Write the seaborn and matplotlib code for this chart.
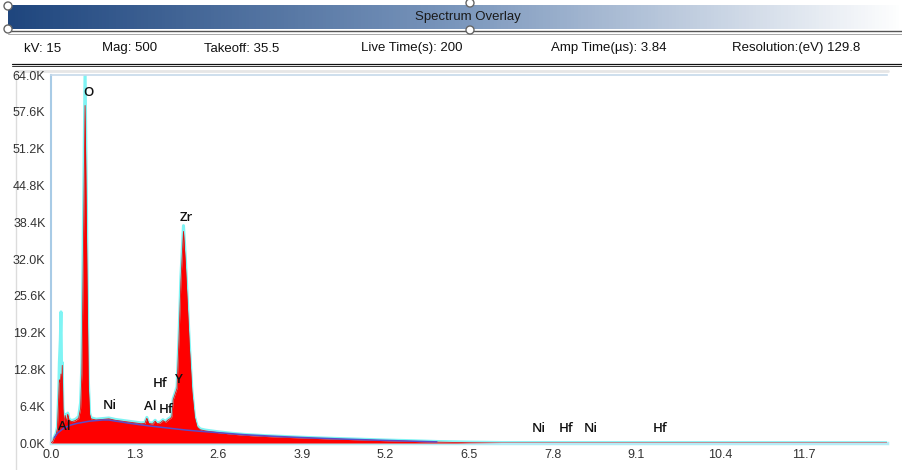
import numpy as np
import pandas as pd
import matplotlib
matplotlib.use("Agg")
import matplotlib.pyplot as plt
from matplotlib.colors import LinearSegmentedColormap
from matplotlib.patches import Circle
import seaborn as sns

# ---------------- data ----------------
energy = [0.00, 0.03, 0.05, 0.08, 0.10, 0.12, 0.13, 0.145, 0.155, 0.165, 0.175, 0.185,
          0.20, 0.22, 0.24, 0.26, 0.28, 0.32, 0.38, 0.43, 0.46, 0.48, 0.50, 0.53, 0.56,
          0.58, 0.60, 0.62, 0.70, 0.80, 0.90, 1.00, 1.10, 1.20, 1.30, 1.40, 1.46, 1.49,
          1.52, 1.58, 1.62, 1.65, 1.70, 1.74, 1.78, 1.82, 1.86, 1.88, 1.90, 1.93, 1.96,
          1.99, 2.02, 2.06, 2.09, 2.12, 2.15, 2.19, 2.23, 2.27, 2.32, 2.40, 2.60, 2.80,
          3.00, 3.30, 3.60, 3.90, 4.30, 4.70, 5.20, 5.60, 6.00, 6.50, 7.00, 13.0]

counts = [0, 300, 900, 1500, 2500, 8000, 11000, 10500, 12000, 9000, 13500, 6000,
          3500, 4800, 3600, 5000, 4000, 3700, 3900, 4300, 6000, 12000, 30000, 58700, 28000,
          10000, 5000, 4200, 4000, 4100, 4200, 3950, 3800, 3650, 3500, 3350, 3400, 4300,
          3400, 3300, 3800, 3350, 3500, 3900, 3600, 4000, 4300, 4600, 7500, 8500, 9500,
          18000, 28000, 36800, 31000, 24000, 17000, 9000, 4500, 2800, 2300, 2100, 1800, 1550,
          1350, 1150, 1000, 880, 720, 580, 400, 280, 150, 50, 0, 0]

overlay = [0, 400, 1000, 1700, 2800, 9000, 14000, 18000, 22800, 12000, 14000, 6500,
           3700, 5000, 3800, 5200, 4200, 3900, 4100, 4600, 7000, 14000, 34000, 65000, 32000,
           11000, 5300, 4400, 4150, 4250, 4350, 4100, 3950, 3800, 3650, 3500, 3550, 4450,
           3550, 3450, 3950, 3500, 3650, 4050, 3750, 4150, 4450, 4800, 7700, 8700, 9800,
           18500, 29000, 37800, 32000, 25000, 17500, 9400, 4700, 3000, 2450, 2250, 1950, 1700,
           1500, 1300, 1150, 1000, 840, 700, 520, 400, 260, 150, 80, 60]

bg_energy = [0.05, 0.10, 0.20, 0.30, 0.40, 0.50, 0.60, 0.80, 0.90, 1.00, 1.10, 1.20, 1.30,
             1.50, 1.70, 1.90, 2.10, 2.30, 2.60, 3.00, 3.50, 3.90, 4.50, 5.20, 6.00]
bg_counts = [900, 1700, 2600, 3100, 3400, 3600, 3800, 4000, 4000, 3800, 3650, 3450, 3300,
             3000, 2750, 2500, 2250, 2050, 1800, 1450, 1150, 950, 700, 450, 200]

peak_labels = ["O", "Zr", "Hf", "Y", "Ni", "Al", "Hf", "Al", "Ni", "Hf", "Ni", "Hf"]
peak_x = [0.58, 2.10, 1.70, 1.98, 0.92, 1.54, 1.79, 0.21, 7.59, 8.01, 8.40, 9.47]
peak_y = [61000, 39300, 10400, 11000, 6600, 6300, 5900, 2900, 2500, 2500, 2500, 2500]

xticks = [0.0, 1.3, 2.6, 3.9, 5.2, 6.5, 7.8, 9.1, 10.4, 11.7]
yticks = [0, 6400, 12800, 19200, 25600, 32000, 38400, 44800, 51200, 57600, 64000]
ytick_labels = ["0.0K", "6.4K", "12.8K", "19.2K", "25.6K", "32.0K", "38.4K", "44.8K",
                "51.2K", "57.6K", "64.0K"]

header_title = "Spectrum Overlay"
info_texts = ["kV: 15", "Mag: 500", "Takeoff: 35.5", "Live Time(s): 200",
              "Amp Time(\u00b5s): 3.84", "Resolution:(eV) 129.8"]
info_x = [24, 102, 204, 361, 551, 732]

# ---------------- figure ----------------
sns.set_theme(style="white")
plt.rcParams['font.family'] = ['Liberation Sans', 'DejaVu Sans']

W, H = 903, 470
fig = plt.figure(figsize=(W / 100, H / 100), dpi=100)
fig.patch.set_facecolor("white")

# pixel-space overlay for the header
pa = fig.add_axes([0, 0, 1, 1])
pa.set_xlim(0, W)
pa.set_ylim(H, 0)
pa.axis("off")

cmap = LinearSegmentedColormap.from_list(
    "hdr", [(0.0, "#1f467e"), (0.5, "#7a96bc"), (1.0, "#ffffff")])
grad = np.linspace(0, 1, 256).reshape(1, -1)
pa.imshow(grad, cmap=cmap, aspect="auto", extent=[8, W, 29, 5], zorder=1)
pa.plot([8, W], [31, 31], color="#555555", lw=1.0, zorder=2)
pa.plot([8, W], [33.5, 33.5], color="#9a9a9a", lw=0.6, zorder=2)
pa.plot([12, W], [64, 64], color="#111111", lw=0.9, zorder=2)
pa.plot([12, W], [66, 66], color="#333333", lw=0.7, zorder=2)
for (cx, cy) in [(8, 6), (8, 29), (470, 3), (470, 30)]:
    pa.add_patch(Circle((cx, cy), 4, facecolor="white", edgecolor="#666666", lw=1.0, zorder=3))
pa.text(468, 17, header_title, ha="center", va="center", fontsize=9.5, color="#1a1a1a", zorder=4)
for t, x in zip(info_texts, info_x):
    pa.text(x, 48.5, t, ha="left", va="center", fontsize=9.5, color="#111111")
# outer plot frame (left and top only)
pa.plot([16, 16], [70, H], color="#dcdcdc", lw=1.0)
pa.plot([16, 888], [70.5, 70.5], color="#e6e6e6", lw=2.0)

# ---------------- main axes ----------------
left, right = 51 / W, 887 / W
bottom, top = 1 - 443 / H, 1 - 75 / H
ax = fig.add_axes([left, bottom, right - left, top - bottom])
ax.set_facecolor("white")

df = pd.DataFrame({"energy": energy, "counts": counts, "overlay": overlay})
bg = pd.DataFrame({"energy": bg_energy, "counts": bg_counts})

sns.lineplot(data=df, x="energy", y="overlay", ax=ax, color="#7ff4f4", lw=2.2, zorder=2)
ax.fill_between(df["energy"], 0, df["counts"], color="#ff0000", lw=0, zorder=3)
sns.lineplot(data=df, x="energy", y="counts", ax=ax, color="#e01010", lw=0.6, zorder=3)
sns.lineplot(data=bg, x="energy", y="counts", ax=ax, color="#5a4cc8", lw=1.1, zorder=4)

for lab, x, y in zip(peak_labels, peak_x, peak_y):
    ax.text(x, y, lab, ha="center", va="center", fontsize=9.5, color="#111111",
            family=["Open Sans", "DejaVu Sans"], fontweight="semibold", zorder=6)

ax.set_xlim(0, 13.0)
ax.set_ylim(0, 64000)
ax.set_xticks(xticks)
ax.set_xticklabels([f"{v:.1f}" for v in xticks])
ax.set_yticks(yticks)
ax.set_yticklabels(ytick_labels)
ax.set_xlabel("")
ax.set_ylabel("")
ax.tick_params(axis="both", labelsize=9, length=2, width=0.6, pad=2)
ax.tick_params(axis="x", colors="#888888", labelcolor="#333333")
ax.tick_params(axis="y", colors="#888888", labelcolor="#333333")

ax.spines["left"].set_color("#a8cbe6")
ax.spines["left"].set_linewidth(1.5)
ax.spines["bottom"].set_color("#b4ecf6")
ax.spines["bottom"].set_linewidth(2.5)
ax.spines["top"].set_color("#c6d9ea")
ax.spines["top"].set_linewidth(1.2)
ax.spines["right"].set_visible(False)
ax.grid(False)

fig.savefig("out.png", dpi=100, facecolor="white")
